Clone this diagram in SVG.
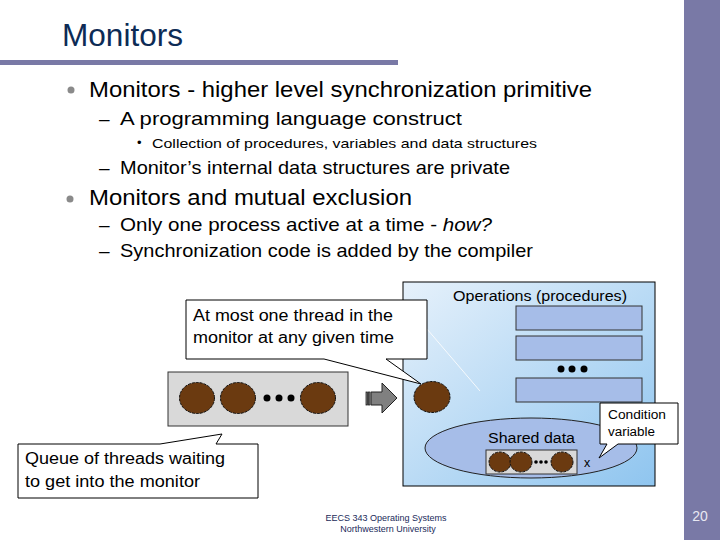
<svg xmlns="http://www.w3.org/2000/svg" width="720" height="540" viewBox="0 0 720 540">
<style>
text{font-family:"Liberation Sans",Arial,sans-serif;fill:#000}
.title{fill:#0d2b55;font-size:32px}
.l1{font-size:22px}
.l2{font-size:19px}
.l3{font-size:13px}
.call{font-size:16px}
.small{font-size:14px}
.tiny{font-size:12.5px}
.foot{font-size:9px;fill:#1a2a5a}
.thread{fill:#6b3a10;stroke:#111;stroke-width:1;stroke-dasharray:3 1}
.proc{fill:#a6bde8;stroke:#333;stroke-width:1}
.box{fill:#fff;stroke:#000;stroke-width:1}
.dot{fill:#000}
</style>
<defs>
<linearGradient id="mon" x1="0" y1="0" x2="1" y2="1">
<stop offset="0" stop-color="#e6f1fb"/>
<stop offset="1" stop-color="#8fc5ef"/>
</linearGradient>
</defs>
<rect width="720" height="540" fill="#fff"/>
<!-- slide frame -->
<rect x="684" y="0" width="36" height="540" fill="#7979a6"/>
<rect x="0" y="60" width="398" height="5" fill="#7979a6"/>
<text class="title" x="62" y="46" textLength="121" lengthAdjust="spacingAndGlyphs">Monitors</text>
<!-- bullets -->
<circle cx="71" cy="90" r="3.5" fill="#8a8a8a"/>
<text class="l1" x="89" y="97" textLength="503" lengthAdjust="spacingAndGlyphs">Monitors - higher level synchronization primitive</text>
<text class="l2" x="99" y="125">–</text>
<text class="l2" x="120" y="125" textLength="342" lengthAdjust="spacingAndGlyphs">A programming language construct</text>
<text class="l3" x="137" y="147">•</text>
<text class="l3" x="152" y="148" textLength="385" lengthAdjust="spacingAndGlyphs">Collection of procedures, variables and data structures</text>
<text class="l2" x="99" y="174">–</text>
<text class="l2" x="120" y="174" textLength="390" lengthAdjust="spacingAndGlyphs">Monitor’s internal data structures are private</text>
<circle cx="70" cy="199" r="3.5" fill="#8a8a8a"/>
<text class="l1" x="89" y="205" textLength="323" lengthAdjust="spacingAndGlyphs">Monitors and mutual exclusion</text>
<text class="l2" x="99" y="231">–</text>
<text class="l2" x="120" y="231" textLength="372" lengthAdjust="spacingAndGlyphs">Only one process active at a time - <tspan font-style="italic">how?</tspan></text>
<text class="l2" x="99" y="257">–</text>
<text class="l2" x="120" y="257" textLength="413" lengthAdjust="spacingAndGlyphs">Synchronization code is added by the compiler</text>

<!-- monitor -->
<g id="monitor">
<rect x="403" y="282" width="252" height="204" fill="url(#mon)" stroke="#000" stroke-width="1"/>
<line x1="427" y1="329" x2="480" y2="391" stroke="#fff" stroke-width="1" opacity="0.85"/>
<text class="small" x="453" y="301" textLength="174" lengthAdjust="spacingAndGlyphs">Operations (procedures)</text>
</g>
<g id="procedures">
<rect class="proc" x="516" y="306" width="126" height="24"/>
<rect class="proc" x="516" y="336" width="126" height="24"/>
<circle class="dot" cx="561" cy="369" r="3.5"/>
<circle class="dot" cx="572" cy="369" r="3.5"/>
<circle class="dot" cx="584" cy="369" r="3.5"/>
<rect class="proc" x="516" y="378" width="126" height="24"/>
</g>
<g id="active-thread">
<ellipse class="thread" cx="432" cy="397" rx="18" ry="15.5"/>
</g>
<g id="shared-data">
<ellipse cx="531" cy="448" rx="106" ry="30" fill="#a6bde8" stroke="#222" stroke-width="1"/>
<text class="small" x="488" y="443" textLength="87" lengthAdjust="spacingAndGlyphs">Shared data</text>
<rect x="486" y="450" width="91" height="24" fill="#d9d9d9" stroke="#333" stroke-width="1"/>
<ellipse class="thread" cx="500" cy="462" rx="11" ry="10"/>
<ellipse class="thread" cx="521" cy="462" rx="11" ry="10"/>
<circle class="dot" cx="536" cy="462" r="1.8"/>
<circle class="dot" cx="541" cy="462" r="1.8"/>
<circle class="dot" cx="546" cy="462" r="1.8"/>
<ellipse class="thread" cx="562" cy="462" rx="11" ry="10"/>
<text class="tiny" x="584" y="467">x</text>
</g>
<!-- entry queue -->
<g id="entry-queue">
<rect x="168" y="372" width="180" height="54" fill="#d9d9d9" stroke="#333" stroke-width="1"/>
<ellipse class="thread" cx="197" cy="398" rx="17.5" ry="15.5"/>
<ellipse class="thread" cx="238" cy="398" rx="17.5" ry="15.5"/>
<circle class="dot" cx="267" cy="398" r="3.5"/>
<circle class="dot" cx="279" cy="398" r="3.5"/>
<circle class="dot" cx="291" cy="398" r="3.5"/>
<ellipse class="thread" cx="318" cy="398" rx="17.5" ry="15.5"/>
</g>
<g id="connectors">
<polygon points="371,392 382,392 382,383 397,398 382,413 382,405 371,405" fill="#808080" stroke="#222" stroke-width="1"/>
<rect x="366" y="392" width="1.5" height="13" fill="#808080" stroke="#222" stroke-width="0.8"/>
<rect x="368.5" y="392" width="1.5" height="13" fill="#808080" stroke="#222" stroke-width="0.8"/>
</g>
<!-- callouts -->
<g id="callout-one-thread">
<path class="box" d="M186,300 H427 V359 H386 L421,384 L324,359 H186 Z"/>
<text class="call" x="193" y="321" textLength="200" lengthAdjust="spacingAndGlyphs">At most one thread in the</text>
<text class="call" x="193" y="343" textLength="201" lengthAdjust="spacingAndGlyphs">monitor at any given time</text>
</g>
<g id="callout-queue">
<path class="box" d="M18,444 H160 L222,434 L216,444 H258 V498 H18 Z"/>
<text class="call" x="25" y="464" textLength="200" lengthAdjust="spacingAndGlyphs">Queue of threads waiting</text>
<text class="call" x="25" y="487" textLength="175" lengthAdjust="spacingAndGlyphs">to get into the monitor</text>
</g>
<g id="callout-condition">
<path class="box" d="M600,403 H678 V444 H618 L599,458 L607,444 H600 Z"/>
<text class="tiny" x="608" y="419" textLength="58" lengthAdjust="spacingAndGlyphs">Condition</text>
<text class="tiny" x="608" y="436" textLength="47" lengthAdjust="spacingAndGlyphs">variable</text>
</g>
<!-- footer -->
<text class="foot" x="386" y="521" text-anchor="middle">EECS 343 Operating Systems</text>
<text class="foot" x="388" y="532" text-anchor="middle">Northwestern University</text>
<text x="700" y="521" text-anchor="middle" font-size="14" style="fill:#e8e8f2">20</text>
</svg>
